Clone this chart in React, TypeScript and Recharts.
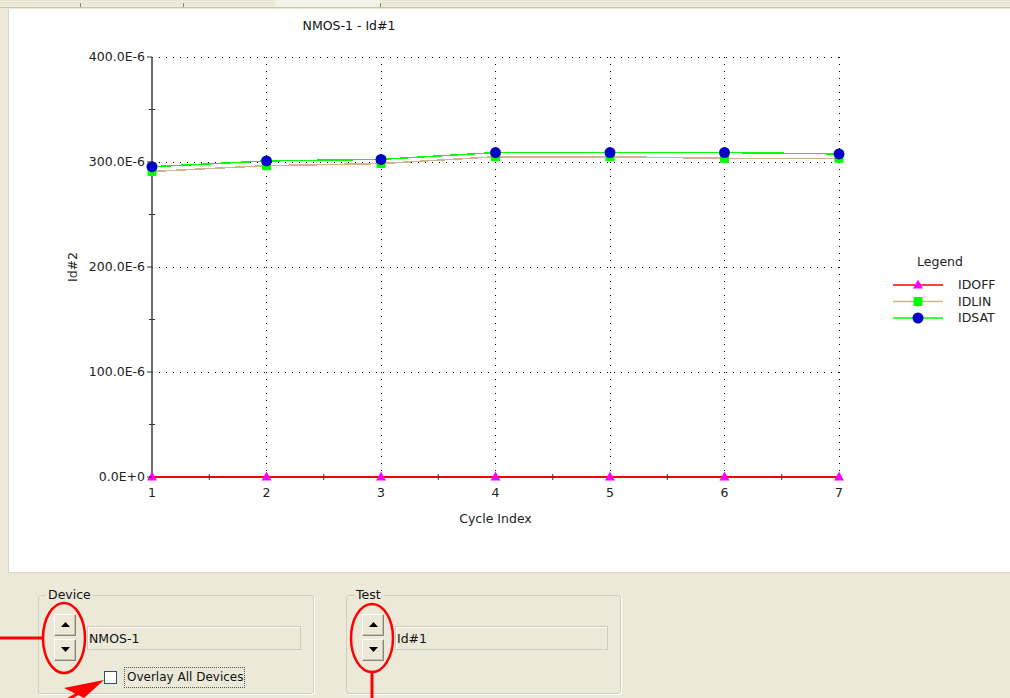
import React from 'react';
import { LineChart, Line, XAxis, YAxis, CartesianGrid, Legend } from 'recharts';

// ---------- data ----------
const cycles = [1, 2, 3, 4, 5, 6, 7];
const idoff = [0, 0, 0, 0, 0, 0, 0];
const idlin = [291e-6, 296.5e-6, 298.5e-6, 305e-6, 305e-6, 303.5e-6, 303.5e-6];
const idsat = [295.5e-6, 301e-6, 302.5e-6, 309e-6, 309e-6, 309e-6, 307.7e-6];
const xTicks = [1, 1.5, 2, 2.5, 3, 3.5, 4, 4.5, 5, 5.5, 6, 6.5, 7];
const xGrid = [2, 3, 4, 5, 6, 7];
const yTicks = [0, 50e-6, 100e-6, 150e-6, 200e-6, 250e-6, 300e-6, 350e-6, 400e-6];
const yGrid = [100e-6, 200e-6, 300e-6, 400e-6];
const yTickLabels = ['0.0E+0', '100.0E-6', '200.0E-6', '300.0E-6', '400.0E-6'];
const seriesNames = ['IDOFF', 'IDLIN', 'IDSAT'];
const chartTitle = 'NMOS-1 - Id#1';
const deviceName = 'NMOS-1';
const testName = 'Id#1';

const data = cycles.map((c, i) => ({ cycle: c, IDOFF: idoff[i], IDLIN: idlin[i], IDSAT: idsat[i] }));

// ---------- styles ----------
const FONT = '"DejaVu Sans", Verdana, sans-serif';
const BEIGE = '#ECE9D8';
const styles: Record<string, { stroke: string; fill: string; marker: string }> = {
  IDOFF: { stroke: '#FF0000', fill: '#FF00FF', marker: 'triangle' },
  IDLIN: { stroke: '#D2B48C', fill: '#00FF00', marker: 'square' },
  IDSAT: { stroke: '#00FF00', fill: '#0000C8', marker: 'circle' },
};

function Marker({ kind, cx, cy, fill }: { kind: string; cx: number; cy: number; fill: string }) {
  if (cx == null || cy == null || isNaN(cx) || isNaN(cy)) return null;
  if (kind === 'triangle') {
    return <polygon points={`${cx},${cy - 5.5} ${cx - 5},${cy + 3.5} ${cx + 5},${cy + 3.5}`} fill={fill} />;
  }
  if (kind === 'square') {
    return <rect x={cx - 4.5} y={cy - 4.5} width={9} height={9} fill={fill} />;
  }
  return <circle cx={cx} cy={cy} r={5.5} fill={fill} />;
}

const isMajorY = (v: number) => Math.abs(v / 100e-6 - Math.round(v / 100e-6)) < 1e-6;

function YTick(props: any) {
  const { x, y, payload } = props;
  const v = payload.value as number;
  if (isMajorY(v)) {
    const idx = Math.round(v / 100e-6);
    return (
      <g>
        <line x1={x - 5} y1={y} x2={x} y2={y} stroke="#333" strokeWidth={1} />
        <text x={x - 7} y={y} dy="0.35em" textAnchor="end" fontSize={12.5} fontFamily={FONT} fill="#222">
          {yTickLabels[idx]}
        </text>
      </g>
    );
  }
  return <line x1={x - 3} y1={y} x2={x + 3} y2={y} stroke="#333" strokeWidth={1} />;
}

function XTick(props: any) {
  const { x, y, payload } = props;
  const v = payload.value as number;
  if (Number.isInteger(v)) {
    return (
      <text x={x} y={y + 16} dy="0.35em" textAnchor="middle" fontSize={12.5} fontFamily={FONT} fill="#222">
        {v}
      </text>
    );
  }
  return <line x1={x} y1={y - 3} x2={x} y2={y + 3} stroke="#333" strokeWidth={1} />;
}

function LegendContent(props: any) {
  const payload = ([...(props.payload || [])] as any[]).sort(
    (a, b) => seriesNames.indexOf(String(a.value)) - seriesNames.indexOf(String(b.value))
  );
  return (
    <svg width={125} height={80} style={{ display: 'block', overflow: 'visible' }}>
      <text x={55} y={12} dy="0.35em" textAnchor="middle" fontSize={12.5} fontFamily={FONT} fill="#222">
        Legend
      </text>
      {payload.map((p, i) => {
        const name = String(p.value);
        const st = styles[name];
        const yy = 35 + i * 16.5;
        return (
          <g key={name}>
            <line x1={8} y1={yy} x2={58} y2={yy} stroke={st.stroke} strokeWidth={1.5} />
            <Marker kind={st.marker} cx={33} cy={yy} fill={st.fill} />
            <text x={73} y={yy} dy="0.35em" fontSize={12.5} fontFamily={FONT} fill="#222">
              {name}
            </text>
          </g>
        );
      })}
    </svg>
  );
}

function SpinButton({ up }: { up: boolean }) {
  return (
    <div
      style={{
        width: 20,
        height: 20,
        background: BEIGE,
        borderTop: '1px solid #fff',
        borderLeft: '1px solid #fff',
        borderRight: '1px solid #8a877a',
        borderBottom: '1px solid #8a877a',
        boxShadow: 'inset -1px -1px 0 #c5c2b2',
        display: 'flex',
        alignItems: 'center',
        justifyContent: 'center',
      }}
    >
      <svg width={9} height={6}>
        <polygon points={up ? '4.5,0 0,5 9,5' : '0,0 9,0 4.5,5'} fill="#000" />
      </svg>
    </div>
  );
}

function GroupBox({ left, width, title, value, children }: any) {
  return (
    <div style={{ position: 'absolute', left, top: 595, width, height: 99 }}>
      <div
        style={{
          position: 'absolute',
          left: 0,
          top: 0,
          right: 0,
          bottom: 0,
          border: '1px solid #D0D0BF',
          borderRadius: 3,
          boxShadow: '1px 1px 0 #fff',
        }}
      />
      <div
        style={{
          position: 'absolute',
          left: 8,
          top: -8,
          padding: '0 2px',
          background: BEIGE,
          fontFamily: FONT,
          fontSize: 12.5,
          color: '#111',
          lineHeight: '16px',
        }}
      >
        {title}
      </div>
      <div style={{ position: 'absolute', left: 16, top: 19 }}>
        <SpinButton up={true} />
        <div style={{ height: 3 }} />
        <SpinButton up={false} />
      </div>
      <div
        style={{
          position: 'absolute',
          left: 49,
          top: 31,
          width: width - 62,
          height: 24,
          border: '1px solid #CFCDBE',
          boxShadow: 'inset 1px 1px 0 #fff',
          fontFamily: FONT,
          fontSize: 12.5,
          lineHeight: '24px',
          color: '#111',
          paddingLeft: 1,
          boxSizing: 'border-box',
        }}
      >
        {value}
      </div>
      {children}
    </div>
  );
}

export default function App() {
  return (
    <div style={{ position: 'absolute', left: 0, top: 0, width: 1010, height: 698, background: BEIGE, overflow: 'hidden' }}>
      {/* top tab strip */}
      <div style={{ position: 'absolute', left: 0, top: 7, width: 1010, height: 1, background: '#C9C6B6' }} />
      <div style={{ position: 'absolute', left: 275, top: 0, width: 105, height: 7, background: '#F4F2E8' }} />
      {[80, 183, 380].map((x) => (
        <div key={x} style={{ position: 'absolute', left: x, top: 3, width: 1, height: 4, background: '#8a877a' }} />
      ))}
      {/* white chart panel */}
      <div
        style={{
          position: 'absolute',
          left: 8,
          top: 9,
          width: 1002,
          height: 564,
          background: '#fff',
          borderLeft: '1px solid #D8D5C5',
          borderBottom: '1px solid #D8D5C5',
          boxSizing: 'border-box',
        }}
      />
      <div
        style={{
          position: 'absolute',
          left: 249,
          top: 17,
          width: 200,
          textAlign: 'center',
          fontFamily: FONT,
          fontSize: 12.5,
          lineHeight: '18px',
          color: '#111',
        }}
      >
        {chartTitle}
      </div>
      <div style={{ position: 'absolute', left: 0, top: 0 }}>
        <LineChart width={1010} height={573} data={data} margin={{ top: 57, right: 171, bottom: 46, left: 62 }}>
          <CartesianGrid
            horizontal={true}
            vertical={true}
            horizontalValues={yGrid}
            verticalValues={xGrid}
            stroke="#000"
            strokeDasharray="1 6"
            shapeRendering="crispEdges"
          />
          <XAxis
            dataKey="cycle"
            type="number"
            domain={[1, 7]}
            ticks={xTicks}
            interval={0}
            height={50}
            tickSize={0}
            tickMargin={0}
            tickLine={false}
            axisLine={false}
            tick={<XTick />}
            label={{ value: 'Cycle Index', position: 'insideBottom', offset: 4, fontSize: 12.5, fontFamily: FONT, fill: '#222' }}
          />
          <YAxis
            type="number"
            domain={[0, 400e-6]}
            ticks={yTicks}
            interval={0}
            width={90}
            tickSize={0}
            tickMargin={0}
            tickLine={false}
            axisLine={{ stroke: '#4a4a4a', strokeWidth: 1.6 }}
            tick={<YTick />}
            label={{
              content: (p: any) => {
                const vb = p.viewBox || { x: 62, y: 57, width: 90, height: 420 };
                const lx = vb.x + 11;
                const ly = vb.y + vb.height / 2;
                return (
                  <text
                    x={lx}
                    y={ly}
                    dy="0.35em"
                    textAnchor="middle"
                    transform={`rotate(-90 ${lx} ${ly})`}
                    fontSize={12.5}
                    fontFamily={FONT}
                    fill="#222"
                  >
                    Id#2
                  </text>
                );
              },
            }}
          />
          <Legend
            layout="horizontal"
            verticalAlign="middle"
            align="center"
            content={<LegendContent />}
            wrapperStyle={{ position: 'absolute', left: 885, top: 250, width: 125, height: 80 }}
          />
          {seriesNames.map((name) => {
            const st = styles[name];
            return (
              <Line
                key={name}
                type="linear"
                dataKey={name}
                name={name}
                stroke={st.stroke}
                strokeWidth={1.5}
                shapeRendering="crispEdges"
                isAnimationActive={false}
                dot={(p: any) => <Marker key={`${name}-${p.index}`} kind={st.marker} cx={p.cx} cy={p.cy} fill={st.fill} />}
                activeDot={false}
              />
            );
          })}
        </LineChart>
      </div>
      {/* bottom controls */}
      <GroupBox left={38} width={276} title="Device" value={deviceName}>
        <div style={{ position: 'absolute', left: 66, top: 76, width: 13, height: 13, background: '#fff', border: '1px solid #1C5180', boxSizing: 'border-box' }} />
        <div
          style={{
            position: 'absolute',
            left: 86,
            top: 72,
            width: 121,
            height: 21,
            border: '1px dotted #555',
            boxSizing: 'border-box',
            fontFamily: FONT,
            fontSize: 12,
            lineHeight: '19px',
            paddingLeft: 2,
            color: '#111',
            whiteSpace: 'nowrap',
          }}
        >
          Overlay All Devices
        </div>
      </GroupBox>
      <GroupBox left={346} width={275} title="Test" value={testName} />
      {/* red annotations */}
      <svg width={1010} height={698} style={{ position: 'absolute', left: 0, top: 0, pointerEvents: 'none' }}>
        <ellipse cx={64} cy={638} rx={21} ry={35} fill="none" stroke="#FF0000" strokeWidth={2.5} />
        <line x1={0} y1={638} x2={43} y2={638} stroke="#FF0000" strokeWidth={3} />
        <ellipse cx={372} cy={638} rx={21} ry={34} fill="none" stroke="#FF0000" strokeWidth={2.5} />
        <line x1={372} y1={672} x2={372} y2={698} stroke="#FF0000" strokeWidth={3} />
        <polygon points="104,680 64,688 84,698" fill="#FF0000" />
        <line x1={84} y1={690} x2={60} y2={704} stroke="#FF0000" strokeWidth={3} />
      </svg>
    </div>
  );
}
